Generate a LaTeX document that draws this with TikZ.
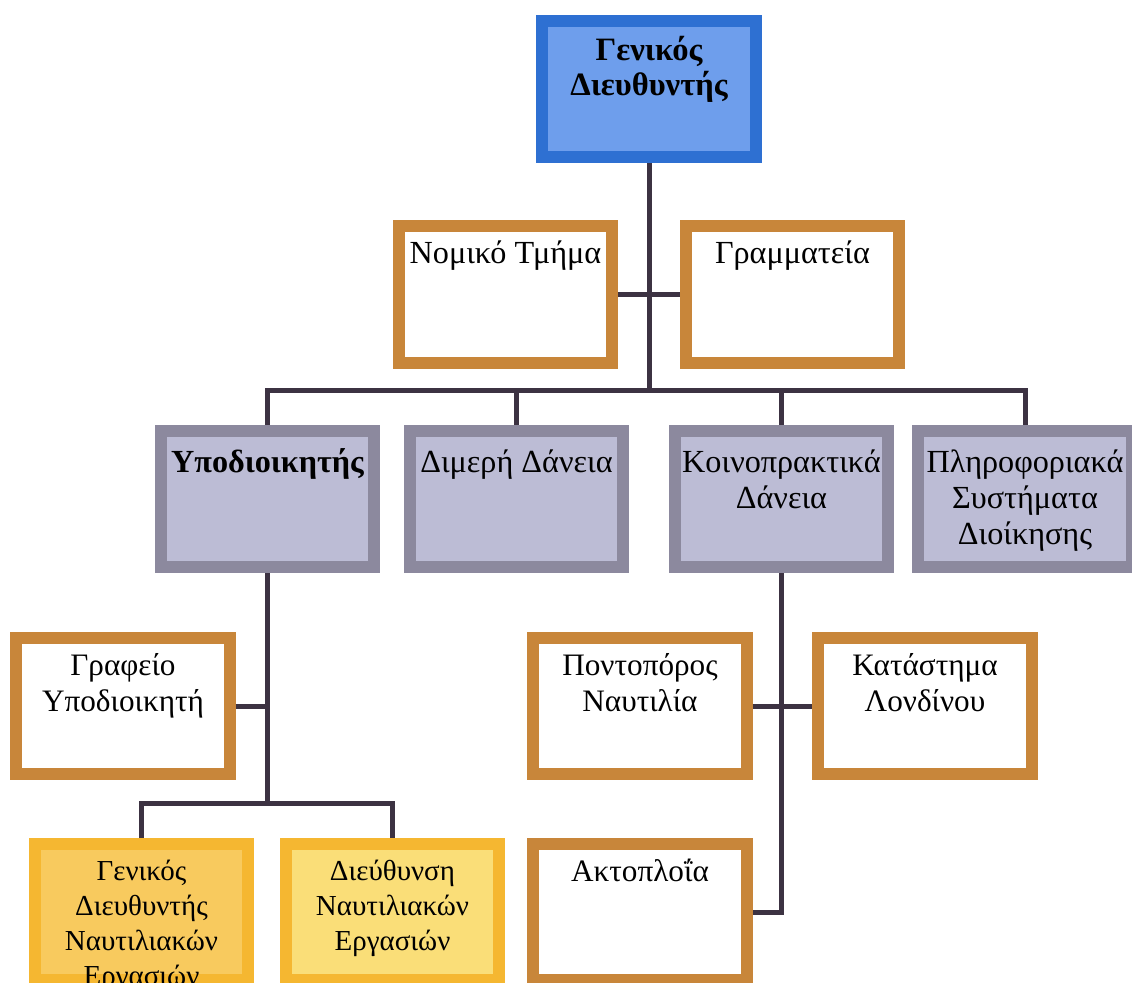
\documentclass[tikz,border=0pt]{standalone}
\usepackage{fontspec}
\setmainfont{Liberation Serif}
\definecolor{chiefblue}{RGB}{46,112,210}
\definecolor{chieffill}{RGB}{110,158,236}
\definecolor{deptbrown}{RGB}{200,134,58}
\definecolor{unitgray}{RGB}{140,137,158}
\definecolor{unitfill}{RGB}{188,188,213}
\definecolor{opsyellow}{RGB}{245,183,49}
\definecolor{opsfillA}{RGB}{248,202,94}
\definecolor{opsfillB}{RGB}{250,222,120}
\definecolor{linkline}{RGB}{60,50,66}
\newcommand{\boxlines}[2][0.3cm]{\parbox[c][3.4cm][t]{5.2cm}{\centering\vspace*{#1}\strut #2}}
\begin{document}
\begin{tikzpicture}[x=0.025cm, y=-0.025cm,
    orgbox/.style={draw, rectangle, line width=0.3cm, inner sep=0pt,
        minimum width=5.325cm, minimum height=3.4cm,
        font=\fontsize{22.9}{25.6}\selectfont},
    chief/.style={orgbox, draw=chiefblue, fill=chieffill,
        font=\fontsize{23.2}{24.9}\selectfont\bfseries},
    dept/.style={orgbox, draw=deptbrown, fill=white},
    lowdept/.style={dept, font=\fontsize{22.2}{25.6}\selectfont},
    unit/.style={orgbox, draw=unitgray, fill=unitfill},
    ops/.style={orgbox, draw=opsyellow, font=\fontsize{20.6}{24.9}\selectfont},
    link/.style={draw=linkline, line width=0.125cm}]
        \useasboundingbox (0,0) rectangle (1132,982);
        \clip (0,0) rectangle (1132,982);
        % top
        \node   (gd) at (649,89) [chief] {\boxlines[0.38cm]{Γενικός\\Διευθυντής}};
        \node   (nom) at (505.5,294.5) [dept] {\boxlines{Νομικό Τμήμα}};
        \node   (gram) at (792.5,294.5) [dept] {\boxlines{Γραμματεία}};
        % second row
        \node   (ypo) at (267.5,499) [unit] {\boxlines[0.4cm]{\bfseries Υποδιοικητής}};
        \node   (dim) at (516.5,499) [unit] {\boxlines[0.4cm]{Διμερή Δάνεια}};
        \node   (koin) at (781.5,499) [unit] {\boxlines[0.4cm]{Κοινοπρακτικά\\Δάνεια}};
        \node   (pli) at (1025,499) [unit] {\boxlines[0.4cm]{Πληροφοριακά\\Συστήματα\\Διοίκησης}};
        % third row
        \node   (graf) at (123,706) [lowdept] {\boxlines{Γραφείο\\Υποδιοικητή}};
        \node   (pont) at (640,706) [lowdept] {\boxlines{Ποντοπόρος\\Ναυτιλία}};
        \node   (kat) at (925,706) [lowdept] {\boxlines{Κατάστημα\\Λονδίνου}};
        % bottom
        \node   (gdna) at (141.5,912) [ops, fill=opsfillA] {\boxlines{Γενικός\\Διευθυντής\\Ναυτιλιακών\\Εργασιών}};
        \node   (dna) at (392.5,912) [ops, fill=opsfillB] {\boxlines{Διεύθυνση\\Ναυτιλιακών\\Εργασιών}};
        \node   (akt) at (640,912) [lowdept] {\boxlines{Ακτοπλοΐα}};
        \coordinate (bus) at (649,390);
        \coordinate (ypobus) at (267.5,803);
        \draw[link] (gd.south) -- (bus);
        \draw[link] (nom.east) -- (gram.west);
        \draw[link] (ypo.north) |- (bus) -| (pli.north);
        \draw[link] (dim.north) -- (dim.north |- bus);
        \draw[link] (koin.north) -- (koin.north |- bus);
        \draw[link] (ypo.south) -- (ypobus);
        \draw[link] (graf.east) -- (graf.east -| ypobus);
        \draw[link] (gdna.north) |- (ypobus) -| (dna.north);
        \draw[link] (koin.south) |- (akt.east);
        \draw[link] (pont.east) -- (kat.west);
\end{tikzpicture}
\end{document}
